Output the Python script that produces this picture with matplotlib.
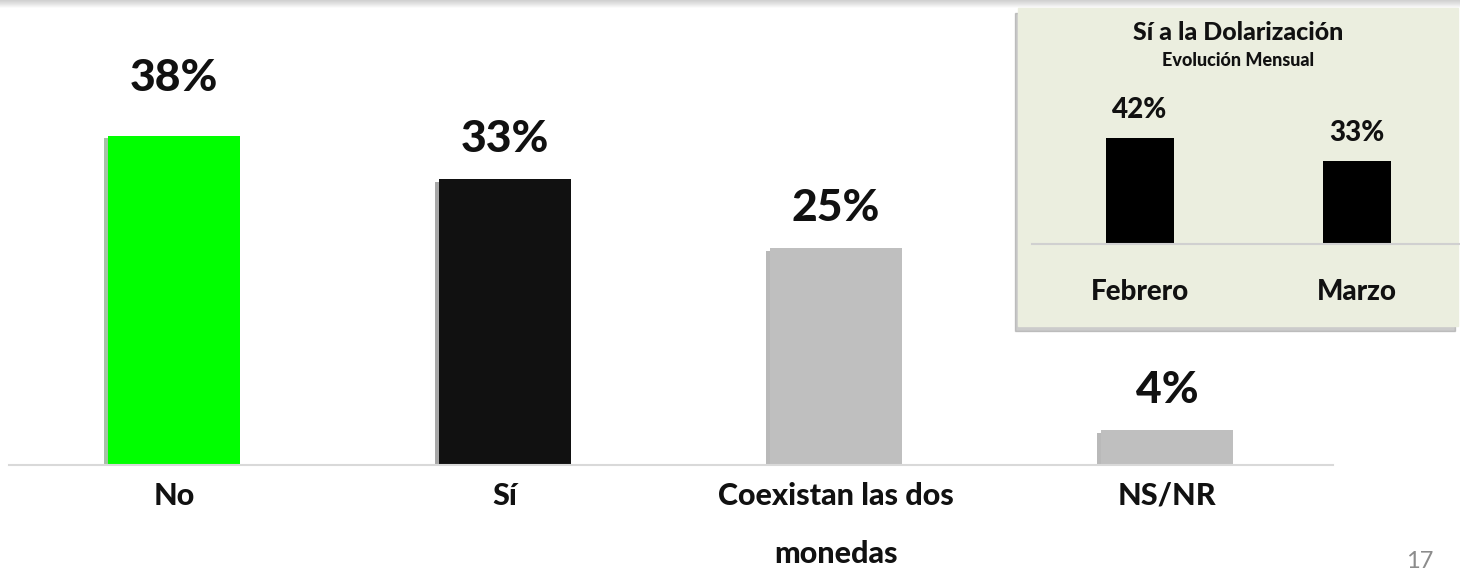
import matplotlib.pyplot as plt
import matplotlib.patheffects as pe
from matplotlib.patches import Rectangle

# datos principales
categorias = ["No", "Sí", "Coexistan las dos\nmonedas", "NS/NR"]
valores = [38, 33, 25, 4]
colores = ["#00FF00", "#111111", "#BFBFBF", "#BFBFBF"]

# recuadro: evolución mensual del "Sí"
meses = ["Febrero", "Marzo"]
valores_mes = [42, 33]

plt.rcParams["font.family"] = ["Lato", "DejaVu Sans"]

W, H = 1460, 577
fig = plt.figure(figsize=(W / 100, H / 100), dpi=100)

# sombra superior
for i in range(8):
    fig.add_artist(plt.Line2D([0, 1], [1 - i / H, 1 - i / H], color="#A0A0A0",
                              alpha=0.35 * (1 - i / 8), lw=1.2))

sombra = [pe.SimplePatchShadow(offset=(-3, -2), alpha=0.35), pe.Normal()]

##### grafico principal
ax = fig.add_axes([8.5 / W, 1 - 465 / H, 1324 / W, 390 / H])
ax.patch.set_visible(False)
x = list(range(len(valores)))
bars = ax.bar(x, valores, width=0.4, color=colores)
for b in bars:
    b.set_path_effects(sombra)
desplaz = [58, 40, 40, 40]  # separacion etiqueta-barra en px
for a, v, d in zip(x, valores, desplaz):
    ax.annotate("%d%%" % v, (a, v), xytext=(0, d), textcoords="offset pixels",
                ha="center", va="center", fontsize=32, fontweight=900, color="#111111")
ax.set_xlim(-0.5, 3.5)
ax.set_ylim(0, 45)
ax.set_xticks(x)
ax.set_xticklabels(categorias, fontsize=22, fontweight=900, color="#111111",
                   linespacing=2.3, va="top")
ax.tick_params(axis="x", length=0, pad=12)
ax.set_yticks([])
for s in ["top", "right", "left"]:
    ax.spines[s].set_visible(False)
ax.spines["bottom"].set_color("#D9D9D9")
ax.spines["bottom"].set_linewidth(1.5)

##### recuadro
x0, y0, x1, y1 = 1018, 8, 1458, 326
fig.add_artist(Rectangle(((x0 - 3) / W, 1 - (y1 + 5) / H), (x1 - x0) / W, (y1 - y0) / H,
                         transform=fig.transFigure, color="#7F7F7F", alpha=0.4, zorder=0.6))
fig.add_artist(Rectangle((x0 / W, 1 - y1 / H), (x1 - x0) / W, (y1 - y0) / H,
                         transform=fig.transFigure, color="#EBEEDF", zorder=0.7))
fig.text(1238 / W, 1 - 33 / H, "Sí a la Dolarización", ha="center", va="center",
         fontsize=18, fontweight=900, color="#111111", zorder=3)
fig.text(1238 / W, 1 - 60 / H, "Evolución Mensual", ha="center", va="center",
         fontsize=13, fontweight=900, color="#111111", zorder=3)

ax2 = fig.add_axes([1031.5 / W, 1 - 244 / H, 434 / W, 126 / H], zorder=2)
ax2.patch.set_visible(False)
xm = list(range(len(valores_mes)))
ax2.bar(xm, valores_mes, width=0.31, color="#000000")
for a, v in zip(xm, valores_mes):
    ax2.annotate("%d%%" % v, (a, v), xytext=(0, 28), textcoords="offset pixels",
                 ha="center", va="center", fontsize=20, fontweight=900, color="#111111")
ax2.set_xlim(-0.5, 1.5)
ax2.set_ylim(0, 50)
ax2.set_xticks(xm)
ax2.set_xticklabels(meses, fontsize=20, fontweight=900, color="#111111")
ax2.tick_params(axis="x", length=0, pad=25)
ax2.set_yticks([])
for s in ["top", "right", "left"]:
    ax2.spines[s].set_visible(False)
ax2.spines["bottom"].set_color("#D0D0D0")
ax2.spines["bottom"].set_linewidth(1.5)

# numero de pagina
fig.text(1420 / W, 1 - 562 / H, "17", ha="center", va="center", fontsize=17,
         color="#8C8C8C")

plt.savefig("out.png", dpi=100)
